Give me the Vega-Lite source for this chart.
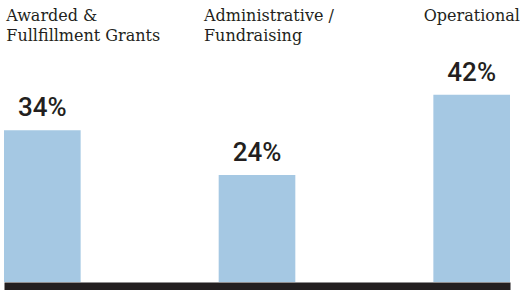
{
  "$schema": "https://vega.github.io/schema/vega-lite/v6.json",
  "width": 506,
  "height": 227,
  "autosize": {"type": "none"},
  "padding": {"left": 4, "right": 17, "top": 55, "bottom": 8},
  "background": "white",
  "config": {"view": {"stroke": null}},
  "data": {
    "values": [
      {"category": "Awarded & Fullfillment Grants", "share": 0.34},
      {"category": "Administrative / Fundraising", "share": 0.24},
      {"category": "Operational", "share": 0.42}
    ]
  },
  "encoding": {
    "x": {
      "field": "category",
      "type": "nominal",
      "sort": null,
      "scale": {"paddingInner": 0.643, "paddingOuter": 0}
    },
    "y": {
      "field": "share",
      "type": "quantitative",
      "scale": {"domain": [0, 0.509], "nice": false},
      "axis": null
    }
  },
  "layer": [
    {
      "mark": {"type": "bar", "color": "#a5c8e3"},
      "encoding": {
        "x": {
          "field": "category",
          "type": "nominal",
          "sort": null,
          "axis": {
            "orient": "bottom",
            "title": null,
            "labels": false,
            "ticks": false,
            "domain": true,
            "domainColor": "#231f20",
            "domainWidth": 8,
            "domainCap": "butt",
            "offset": 4,
            "grid": false
          }
        }
      }
    },
    {
      "mark": {
        "type": "text",
        "dy": -9,
        "baseline": "bottom",
        "font": "Roboto",
        "fontSize": 26,
        "fontWeight": 500,
        "color": "#231f20"
      },
      "encoding": {
        "x": {
          "field": "category",
          "type": "nominal",
          "sort": null,
          "axis": {
            "orient": "top",
            "title": null,
            "domain": false,
            "ticks": false,
            "grid": false,
            "labelAngle": 0,
            "labelAlign": "left",
            "labelBaseline": "top",
            "labelPadding": 48,
            "labelFont": "DejaVu Serif",
            "labelFontSize": 16,
            "labelLineHeight": 20,
            "labelColor": "#231f20",
            "labelLimit": 0,
            "labelOverlap": false,
            "labelOffset": {
              "condition": [
                {"test": "datum.value == 'Administrative / Fundraising'", "value": -53},
                {"test": "datum.value == 'Operational'", "value": -48}
              ],
              "value": -36
            },
            "labelExpr": "datum.value == 'Awarded & Fullfillment Grants' ? ['Awarded &', 'Fullfillment Grants'] : datum.value == 'Administrative / Fundraising' ? ['Administrative /', 'Fundraising'] : datum.value"
          }
        },
        "text": {"field": "share", "type": "quantitative", "format": ".0%"}
      }
    }
  ],
  "resolve": {"axis": {"x": "independent"}}
}
